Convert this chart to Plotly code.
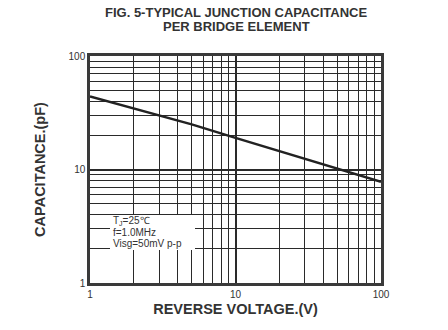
import plotly.graph_objects as go

voltage = [1, 2, 5, 10, 20, 50, 100]
capacitance = [44, 34.5, 25, 19, 14.5, 10.3, 7.8]

x_ticks = [1, 10, 100]
y_ticks = [1, 10, 100]

title_lines = ["FIG. 5-TYPICAL JUNCTION CAPACITANCE", "PER BRIDGE ELEMENT"]
x_title = "REVERSE VOLTAGE.(V)"
y_title = "CAPACITANCE.(pF)"
note_lines = ["T<sub>J</sub>=25℃", "f=1.0MHz", "Visg=50mV p-p"]

font_family = "Liberation Sans, Arial, sans-serif"
grid_color = "#2a2a2a"
text_color = "#333333"

fig = go.Figure()
fig.add_trace(go.Scatter(
    x=voltage, y=capacitance, mode="lines",
    line=dict(color="#222222", width=2.5),
    showlegend=False, hoverinfo="skip",
))

axis_common = dict(
    type="log",
    showgrid=True, gridcolor=grid_color, gridwidth=1.5,
    minor=dict(showgrid=True, gridcolor=grid_color, gridwidth=1.3, dtick="D1", ticks=""),
    showline=True, linecolor="#3a3a3a", linewidth=2.5, mirror=True,
    ticks="", tickfont=dict(size=10, color=text_color, family=font_family),
    zeroline=False,
)

fig.update_layout(
    width=448, height=330,
    margin=dict(l=90, r=67, t=56, b=47),
    paper_bgcolor="white", plot_bgcolor="white",
    font=dict(family=font_family, color=text_color),
    xaxis=dict(axis_common, range=[0, 2], tickvals=x_ticks, ticktext=[str(v) for v in x_ticks],
               title=dict(text=x_title, standoff=6,
                          font=dict(size=14.5, color=text_color, family=font_family, weight="bold"))),
    yaxis=dict(axis_common, range=[0, 2], tickvals=y_ticks, ticktext=[str(v) for v in y_ticks],
               title=dict(text=y_title, standoff=20,
                          font=dict(size=14.5, color=text_color, family=font_family, weight="bold"))),
)

# title as two annotations
for i, line in enumerate(title_lines):
    fig.add_annotation(
        text=line, xref="paper", yref="paper", x=0.502, y=1 + (44 - 14 * i) / 227,
        xanchor="center", yanchor="middle", showarrow=False,
        font=dict(size=13, color=text_color, family=font_family, weight="bold"),
    )

# white note box
fig.add_shape(type="rect", xref="paper", yref="paper",
              x0=(110 - 90) / 291, x1=(195 - 90) / 291,
              y0=(283 - 250) / 227, y1=(283 - 215) / 227,
              fillcolor="white", line=dict(width=0), layer="above")
for i, line in enumerate(note_lines):
    fig.add_annotation(
        text=line, xref="paper", yref="paper", x=(111 - 90) / 291,
        y=(283 - (221 + 11 * i)) / 227,
        xanchor="left", yanchor="middle", align="left", showarrow=False,
        font=dict(size=10, color=text_color, family=font_family),
    )

fig.write_html("out.html")
